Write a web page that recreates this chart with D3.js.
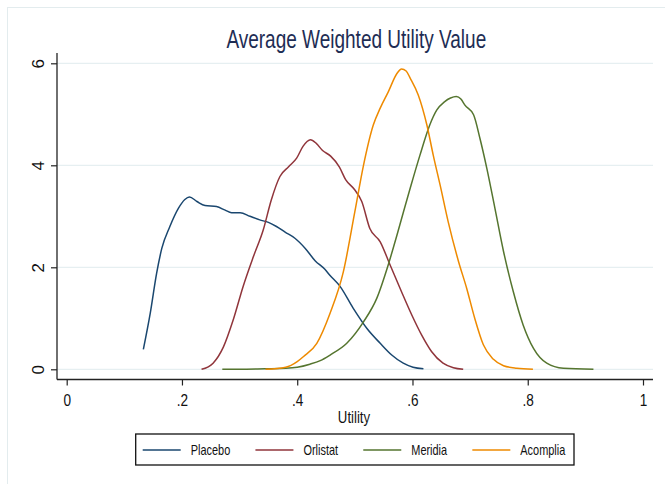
<!DOCTYPE html>
<html>
<head>
<meta charset="utf-8">
<script src="https://cdn.jsdelivr.net/npm/d3@7"></script>
<style>
html,body{margin:0;padding:0;background:#fff;}
text{font-family:"Liberation Sans",Arial,sans-serif;}
</style>
</head>
<body>
<svg id="chart" width="665" height="484"></svg>
<script>
const title = "Average Weighted Utility Value";
const xLabel = "Utility";
const xTicks = [0, 0.2, 0.4, 0.6, 0.8, 1];
const xTickLabels = ["0", ".2", ".4", ".6", ".8", "1"];
const yTicks = [0, 2, 4, 6];
const seriesNames = ["Placebo", "Orlistat", "Meridia", "Acomplia"];
const seriesColors = ["#1a476f", "#90353b", "#55752f", "#ee8a00"];

const placeboX = [.133,.145,.156,.165,.179,.194,.205,.213,.226,.240,.260,.275,.286,.301,.318,.335,.350,.364,.379,.396,.414,.431,.448,.457,.474,.497,.521,.544,.564,.584,.601,.619];
const placeboY = [.39,1.10,1.88,2.37,2.80,3.16,3.33,3.38,3.29,3.21,3.19,3.12,3.07,3.07,3.00,2.93,2.88,2.80,2.69,2.57,2.37,2.13,1.96,1.84,1.63,1.20,.80,.51,.28,.12,.04,.01];

const orlistatX = [.234,.254,.272,.289,.306,.324,.341,.355,.370,.385,.399,.410,.423,.433,.444,.458,.473,.484,.499,.512,.526,.544,.561,.581,.599,.616,.633,.653,.671,.688];
const orlistatY = [0,.12,.44,.97,1.62,2.21,2.73,3.32,3.78,3.97,4.14,4.37,4.50,4.43,4.29,4.18,3.97,3.72,3.53,3.29,2.76,2.50,2.05,1.52,1.06,.67,.35,.12,.03,0];

const meridiaX = [.270,.300,.344,.380,.400,.422,.440,.457,.486,.515,.538,.558,.573,.596,.613,.630,.642,.656,.666,.676,.684,.691,.706,.717,.729,.743,.758,.775,.792,.810,.833,.862,.914];
const meridiaY = [0,0,.01,.02,.04,.10,.17,.28,.51,.93,1.39,2.05,2.63,3.55,4.20,4.79,5.08,5.25,5.32,5.35,5.30,5.18,4.99,4.53,3.94,3.16,2.31,1.52,.87,.41,.12,.02,0];

const acompliaX = [.345,.380,.400,.411,.434,.457,.480,.500,.515,.532,.544,.558,.573,.581,.589,.596,.610,.625,.636,.648,.662,.680,.694,.708,.723,.740,.758,.781,.809];
const acompliaY = [0,.04,.15,.25,.51,1.10,1.91,3.09,4.00,4.79,5.12,5.44,5.80,5.89,5.85,5.71,5.38,4.79,4.20,3.61,2.89,2.11,1.59,1.00,.48,.20,.07,.02,0];

const seriesX = [placeboX, orlistatX, meridiaX, acompliaX];
const seriesY = [placeboY, orlistatY, meridiaY, acompliaY];

const svg = d3.select("#chart");
const squeeze = 0.76;
function squeezeText(sel, f) {
  sel.each(function() {
    const w = this.getComputedTextLength();
    d3.select(this).attr("textLength", w * f).attr("lengthAdjust", "spacingAndGlyphs");
  });
}

// outer frame
svg.append("rect").attr("x", 7.5).attr("y", 7.5).attr("width", 700).attr("height", 700)
  .attr("fill", "#fff").attr("stroke", "#e3ecee").attr("stroke-width", 1);

const plotL = 57, plotR = 653, plotT = 53, plotB = 379.5;
const x = d3.scaleLinear().domain([0, 1]).range([66.7, 643]);
const y = d3.scaleLinear().domain([0, 6]).range([369.3, 63.3]);

// gridlines
svg.append("g").selectAll("line").data(yTicks).join("line")
  .attr("x1", plotL).attr("x2", plotR)
  .attr("y1", d => y(d)).attr("y2", d => y(d))
  .attr("stroke", "#e6eff1").attr("stroke-width", 1.2);

// curves
const line = d3.line().x(d => x(d[0])).y(d => y(d[1])).curve(d3.curveMonotoneX);
seriesNames.forEach((name, i) => {
  const pts = seriesX[i].map((v, j) => [v, seriesY[i][j]]);
  svg.append("path").datum(pts).attr("d", line)
    .attr("fill", "none").attr("stroke", seriesColors[i]).attr("stroke-width", 1.5)
    .attr("stroke-linejoin", "round");
});

// axes
const xAxis = d3.axisBottom(x).tickValues(xTicks).tickFormat((d, i) => xTickLabels[i]).tickSize(6).tickSizeOuter(0).tickPadding(4);
const gx = svg.append("g").attr("transform", `translate(0,${plotB})`).call(xAxis);
gx.select(".domain").remove();
gx.append("line").attr("x1", plotL).attr("x2", plotR).attr("y1", 0).attr("y2", 0).attr("stroke", "#222").attr("stroke-width", 1.3);
gx.selectAll(".tick line").attr("stroke", "#222").attr("stroke-width", 1.2);
gx.selectAll(".tick text").attr("font-size", 17).attr("fill", "#111").attr("dy", null).attr("y", 26.4)
  .call(squeezeText, 0.8);

const yAxis = d3.axisLeft(y).tickValues(yTicks).tickFormat(d3.format("d")).tickSize(6).tickSizeOuter(0);
const gy = svg.append("g").attr("transform", `translate(${plotL},0)`).call(yAxis);
gy.select(".domain").remove();
gy.append("line").attr("x1", 0).attr("x2", 0).attr("y1", plotT).attr("y2", plotB).attr("stroke", "#222").attr("stroke-width", 1.3);
gy.selectAll(".tick line").attr("stroke", "#222").attr("stroke-width", 1.2);
gy.selectAll(".tick text").attr("font-size", 17).attr("fill", "#111")
  .attr("x", null).attr("dy", null).attr("text-anchor", "middle")
  .attr("transform", "translate(-13.5,0) rotate(-90)");

// axis title
svg.append("text").attr("x", 354).attr("y", 423.3).attr("text-anchor", "middle")
  .attr("font-size", 16.5).attr("fill", "#111").text(xLabel).call(squeezeText, 0.8);

// title
svg.append("text").attr("x", 356.3).attr("y", 48.3).attr("text-anchor", "middle")
  .attr("font-size", 25).attr("fill", "#1e2d54").text(title).call(squeezeText, 0.76);

// legend
const leg = svg.append("g");
const legL = 135.7, legR = 574, legT = 434, legB = 465, legMid = 450;
leg.append("rect").attr("x", legL).attr("y", legT).attr("width", legR - legL).attr("height", legB - legT)
  .attr("fill", "#fff").attr("stroke", "#111").attr("stroke-width", 1.3);
let cx = legL + 7;
seriesNames.forEach((name, i) => {
  leg.append("line").attr("x1", cx).attr("x2", cx + 38).attr("y1", legMid).attr("y2", legMid)
    .attr("stroke", seriesColors[i]).attr("stroke-width", 1.6);
  const t = leg.append("text").attr("x", cx + 48).attr("y", 455.4).attr("font-size", 14.4)
    .attr("fill", "#111").text(name);
  const w = t.node().getComputedTextLength() * squeeze;
  t.attr("textLength", w).attr("lengthAdjust", "spacingAndGlyphs");
  cx = cx + 48 + w + 25.2;
});
</script>
</body>
</html>
